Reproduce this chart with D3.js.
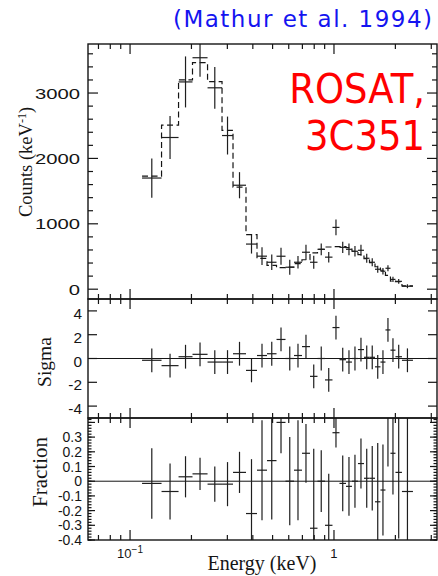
<!DOCTYPE html>
<html><head><meta charset="utf-8">
<script src="https://cdn.jsdelivr.net/npm/d3@7"></script>
<style>body{margin:0;background:#fff}svg{display:block}</style>
</head><body><svg id="c" width="438" height="576"></svg>
<script>
// ---- data ----
const binEdges = [0.1145, 0.1427, 0.1729, 0.2024, 0.2399, 0.2825, 0.3198, 0.3703, 0.4193, 0.4694,
  0.5226, 0.5785, 0.6367, 0.6967, 0.7626, 0.8301, 0.9034, 0.9831, 1.064, 1.145,
  1.225, 1.311, 1.403, 1.493, 1.589, 1.690, 1.788, 1.892, 2.002, 2.154, 2.439];
const counts = [1700, 2320, 3170, 3540, 3080, 2350, 1590, 690, 505, 412, 504, 336, 412, 565, 412,
  610, 490, 945, 640, 610, 580, 595, 473, 412, 305, 275, 320, 150, 120, 45];
const countErr = [300, 330, 390, 290, 320, 290, 200, 145, 135, 120, 130, 115, 95, 115, 100,
  90, 80, 120, 85, 90, 80, 85, 70, 60, 55, 50, 45, 40, 35, 30];
const model = [1730, 2510, 3200, 3465, 3175, 2430, 1560, 835, 470, 365, 330, 336, 390, 450, 555,
  610, 645, 650, 650, 637, 580, 530, 466, 406, 343, 290, 212, 122, 115, 50];
const sigma = [-0.15, -0.6, 0.15, 0.35, -0.3, -0.3, 0.4, -1.0, 0.25, 0.4, 1.6, 0, 0.25, 1.0, -1.5,
  0, -1.8, 2.6, -0.1, -0.3, 0, 0.75, 0.1, 0.1, -0.7, -0.3, 2.4, 0.7, 0.15, -0.15];
const sigmaErr = [1, 1, 1, 1, 1, 1, 1, 1, 1, 1, 1, 1, 1, 1, 1, 1, 1, 1, 1, 1, 1, 1, 1, 1, 1, 1, 1, 1, 1, 1];
const fraction = [-0.015, -0.07, 0.03, 0.05, -0.02, -0.02, 0.06, -0.22, 0.075, 0.14, 0.40, 0, 0.075, 0.19, -0.32,
  0, -0.30, 0.33, -0.015, -0.035, 0, 0.12, 0.02, 0.02, -0.14, -0.06, 0.5, 0.19, 0.06, -0.07];
const fracErr = [0.24, 0.19, 0.14, 0.11, 0.12, 0.15, 0.14, 0.37, 0.34, 0.40, 0.21, 0.30, 0.34, 0.20, 0.54,
  0.21, 0.35, 0.10, 0.19, 0.20, 0.18, 0.17, 0.20, 0.22, 0.40, 0.31, 0.40, 0.28, 0.45, 0.60];

const countTicks = [0, 1000, 2000, 3000];
const sigmaTicks = [-4, -2, 0, 2, 4];
const fracTicks = [-0.4, -0.3, -0.2, -0.1, 0, 0.1, 0.2, 0.3];
const xMajorTicks = [0.1, 1];
const xMinorTicks = [0.07, 0.08, 0.09, 0.2, 0.3, 0.4, 0.5, 0.6, 0.7, 0.8, 0.9, 2, 3];

// ---- layout ----
const svg = d3.select("#c");
const L = 88, R = 437;
const panels = {
  top: {y0: 44, y1: 299},
  mid: {y0: 299, y1: 418},
  bot: {y0: 418, y1: 540}
};
const INK = "#151515";
const x = d3.scaleLog().domain([0.0622, 3.2]).range([L, R]);
const yTop = d3.scaleLinear().domain([-150, 3750]).range([panels.top.y1, panels.top.y0]);
const yMid = d3.scaleLinear().domain([-5, 5]).range([panels.mid.y1, panels.mid.y0]);
const yBot = d3.scaleLinear().domain([-0.4, 0.43]).range([panels.bot.y1, panels.bot.y0]);

const bins = counts.map((c, i) => ({
  lo: binEdges[i], hi: binEdges[i + 1],
  c: Math.sqrt(binEdges[i] * binEdges[i + 1]),
  counts: c, cErr: countErr[i], model: model[i],
  sig: sigma[i], sErr: sigmaErr[i], fr: fraction[i], fErr: fracErr[i]
}));

const defs = svg.append("defs");
function clip(id, p) {
  defs.append("clipPath").attr("id", id).append("rect")
    .attr("x", L).attr("y", p.y0).attr("width", R - L).attr("height", p.y1 - p.y0);
}
clip("cTop", panels.top); clip("cMid", panels.mid); clip("cBot", panels.bot);

function xTicks(p) {
  const g = svg.append("g").attr("stroke", INK).attr("stroke-width", 1.2);
  const all = xMajorTicks.map(v => [v, 10]).concat(xMinorTicks.map(v => [v, 5]));
  all.forEach(([v, len]) => {
    const xx = x(v);
    g.append("line").attr("x1", xx).attr("x2", xx).attr("y1", p.y1).attr("y2", p.y1 - len);
    g.append("line").attr("x1", xx).attr("x2", xx).attr("y1", p.y0).attr("y2", p.y0 + len);
  });
}
function yTicks(p, scale, vals, len) {
  const g = svg.append("g").attr("stroke", INK).attr("stroke-width", 1.2);
  vals.forEach(v => {
    const yy = scale(v);
    g.append("line").attr("x1", L).attr("x2", L + len).attr("y1", yy).attr("y2", yy);
    g.append("line").attr("x1", R).attr("x2", R - len).attr("y1", yy).attr("y2", yy);
  });
}
function frame(p) {
  svg.append("rect").attr("x", L).attr("y", p.y0).attr("width", R - L).attr("height", p.y1 - p.y0)
    .attr("fill", "none").attr("stroke", INK).attr("stroke-width", 1.4);
}
function errorBars(p, clipId, yS, key, errKey) {
  const g = svg.append("g").attr("clip-path", `url(#${clipId})`)
    .attr("stroke", "#1e1e1e").attr("stroke-width", 1.2).attr("fill", "none");
  bins.forEach(b => {
    g.append("line").attr("x1", x(b.lo)).attr("x2", x(b.hi)).attr("y1", yS(b[key])).attr("y2", yS(b[key]));
    g.append("line").attr("x1", x(b.c)).attr("x2", x(b.c))
      .attr("y1", yS(b[key] - b[errKey])).attr("y2", yS(b[key] + b[errKey]));
  });
}

// top panel: model step (dashed) + data
{
  let d = `M${x(bins[0].lo)},${yTop(bins[0].model)}`;
  bins.forEach((b, i) => {
    if (i > 0) d += `V${yTop(b.model)}`;
    d += `H${x(b.hi)}`;
  });
  svg.append("path").attr("d", d).attr("fill", "none").attr("stroke", INK)
    .attr("stroke-width", 1.2).attr("stroke-dasharray", "6,3.5").attr("clip-path", "url(#cTop)");
}
errorBars(panels.top, "cTop", yTop, "counts", "cErr");

// middle
svg.append("line").attr("x1", L).attr("x2", R).attr("y1", yMid(0)).attr("y2", yMid(0))
  .attr("stroke", INK).attr("stroke-width", 1);
errorBars(panels.mid, "cMid", yMid, "sig", "sErr");
// bottom
svg.append("line").attr("x1", L).attr("x2", R).attr("y1", yBot(0)).attr("y2", yBot(0))
  .attr("stroke", INK).attr("stroke-width", 1);
errorBars(panels.bot, "cBot", yBot, "fr", "fErr");

// ticks & frames
const topMinor = d3.range(-0, 3701, 200);
yTicks(panels.top, yTop, topMinor.filter(v => v % 1000 !== 0), 5);
yTicks(panels.top, yTop, countTicks, 10);
yTicks(panels.mid, yMid, sigmaTicks, 9);
const botMinor = d3.range(-20, 22).map(k => k * 0.02).filter(v => v >= -0.4 && v <= 0.43);
yTicks(panels.bot, yBot, botMinor, 3.5);
yTicks(panels.bot, yBot, fracTicks.concat([0.4]), 7);
Object.values(panels).forEach(p => { xTicks(p); frame(p); });

// tick labels
const sans = "'Liberation Sans', Arial, sans-serif";
const serif = "'Liberation Serif', 'Times New Roman', serif";
function tlabel(xx, yy, txt, size, sx) {
  svg.append("text").attr("transform", `translate(${xx},${yy}) scale(${sx},1)`)
    .attr("text-anchor", "end").attr("font-family", sans).attr("font-size", size)
    .attr("fill", INK).text(txt);
}
countTicks.forEach(v => tlabel(80, yTop(v) + 5.5, String(v), 15, 1.35));
sigmaTicks.forEach(v => tlabel(82, yMid(v) + 8, String(v), 14, 1.1));
fracTicks.forEach(v => tlabel(82, yBot(v) + 5, v === 0 ? "0" : v.toFixed(1), 14, 1.0));

// x tick labels
{
  const t1 = svg.append("text").attr("x", x(0.1)).attr("y", 558).attr("text-anchor", "middle")
    .attr("font-family", sans).attr("font-size", 13).attr("fill", INK);
  t1.append("tspan").text("10");
  t1.append("tspan").attr("dy", -5).attr("font-size", 10).text("−1");
  svg.append("text").attr("x", x(1)).attr("y", 558).attr("text-anchor", "middle")
    .attr("font-family", sans).attr("font-size", 13).attr("fill", INK).text("1");
}

// axis titles
svg.append("text").attr("x", 262).attr("y", 570).attr("text-anchor", "middle")
  .attr("font-family", serif).attr("font-size", 20).attr("fill", INK).text("Energy (keV)");
{
  const t = svg.append("text").attr("transform", "translate(32,162) rotate(-90)")
    .attr("text-anchor", "middle").attr("font-family", serif).attr("font-size", 18.5).attr("fill", INK);
  t.append("tspan").text("Counts (keV");
  t.append("tspan").attr("dy", -6).attr("font-size", 12).text("-1");
  t.append("tspan").attr("dy", 6).text(")");
}
svg.append("text").attr("transform", "translate(51,362) rotate(-90)").attr("text-anchor", "middle")
  .attr("font-family", serif).attr("font-size", 19.5).attr("fill", INK).text("Sigma");
svg.append("text").attr("transform", "translate(47,472) rotate(-90)").attr("text-anchor", "middle")
  .attr("font-family", serif).attr("font-size", 21).attr("fill", INK).text("Fraction");

// annotations
svg.append("text").attr("x", 173).attr("y", 27).attr("font-family", "'DejaVu Sans', sans-serif")
  .attr("font-size", 23).attr("fill", "#1414f0").attr("textLength", 259).attr("lengthAdjust", "spacing")
  .text("(Mathur et al. 1994)");
svg.append("text").attr("transform", "translate(425,103) scale(1,1.09)").attr("text-anchor", "end")
  .attr("font-family", "'DejaVu Sans', sans-serif").attr("font-size", 37).attr("fill", "#ff0000").text("ROSAT,");
svg.append("text").attr("transform", "translate(425,150) scale(1,1.09)").attr("text-anchor", "end")
  .attr("font-family", "'DejaVu Sans', sans-serif").attr("font-size", 37).attr("fill", "#ff0000").text("3C351");
</script></body></html>
